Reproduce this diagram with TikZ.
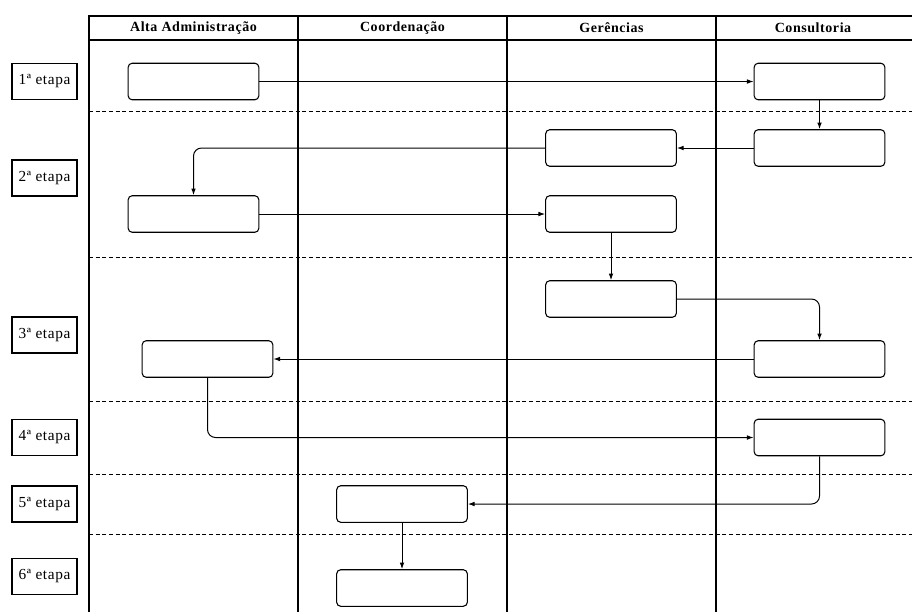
\documentclass[tikz,border=0pt]{standalone}
\usepackage{fontspec}
\setmainfont{Liberation Serif}
\usetikzlibrary{arrows.meta}
\begin{document}
\begin{tikzpicture}[x=0.75pt,y=-0.75pt,
 box/.style={draw, rounded corners=3pt, minimum width=98pt, minimum height=27.4pt, inner sep=0pt, line width=0.8pt},
 lbl/.style={draw, minimum width=48.75pt, minimum height=27pt, inner sep=0pt, font=\fontsize{11.5}{13}\selectfont\addfontfeature{LetterSpace=4}, line width=0.8pt},
 hdr/.style={font=\bfseries\fontsize{10.5}{12}\selectfont\addfontfeature{LetterSpace=4}},
 conn/.style={-{Latex[length=5pt,width=3.5pt]}, line width=0.75pt, rounded corners=6pt},
 lane/.style={line width=1pt},
 sep/.style={dash pattern=on 3pt off 2pt, line width=0.7pt}]
\useasboundingbox (0,0) rectangle (912,612);
% table
\draw[lane] (912,16) -- (89,16) -- (89,612);
\draw[lane] (89,40) -- (912,40);
\foreach \x in {298,507,716} \draw[lane] (\x,16) -- (\x,612);
\node[hdr] (h1) at (193.5,28) {Alta Administração};
\node[hdr] (h2) at (402.5,28) {Coordenação};
\node[hdr] (h3) at (611.5,28) {Gerências};
\node[hdr] (h4) at (813,28) {Consultoria};
\foreach \y in {111,257,401,474,534} \draw[sep] (89,\y) -- (912,\y);
% stage labels
\node[lbl] (e1) at (44.5,81.5) {1ª etapa};
\node[lbl] (e2) at (44.5,178) {2ª etapa};
\node[lbl] (e3) at (44.5,335) {3ª etapa};
\node[lbl] (e4) at (44.5,437.5) {4ª etapa};
\node[lbl] (e5) at (44.5,504) {5ª etapa};
\node[lbl] (e6) at (44.5,576.5) {6ª etapa};
% boxes
\node[box] (a1) at (193.5,81.5) {};
\node[box] (c1) at (819.5,81.5) {};
\node[box] (c2) at (819.5,148) {};
\node[box] (g2a) at (611,148) {};
\node[box] (a2) at (193.5,214) {};
\node[box] (g2b) at (611,214) {};
\node[box] (g3) at (611,299) {};
\node[box] (c3) at (819.5,359) {};
\node[box] (a3) at (207.5,359) {};
\node[box] (c4) at (819.5,437.5) {};
\node[box] (k5) at (402,504) {};
\node[box] (k6) at (402,588) {};
% connectors
\draw[conn] (a1) -- (c1);
\draw[conn] (c1) -- (c2);
\draw[conn] (c2) -- (g2a);
\draw[conn] (g2a.west) -| (a2.north);
\draw[conn] (a2) -- (g2b);
\draw[conn] (g2b) -- (g3);
\draw[conn] (g3.east) -| (c3.north);
\draw[conn] (c3) -- (a3);
\draw[conn] (a3.south) |- (c4.west);
\draw[conn] (c4.south) |- (k5.east);
\draw[conn] (k5) -- (k6);
\end{tikzpicture}
\end{document}
